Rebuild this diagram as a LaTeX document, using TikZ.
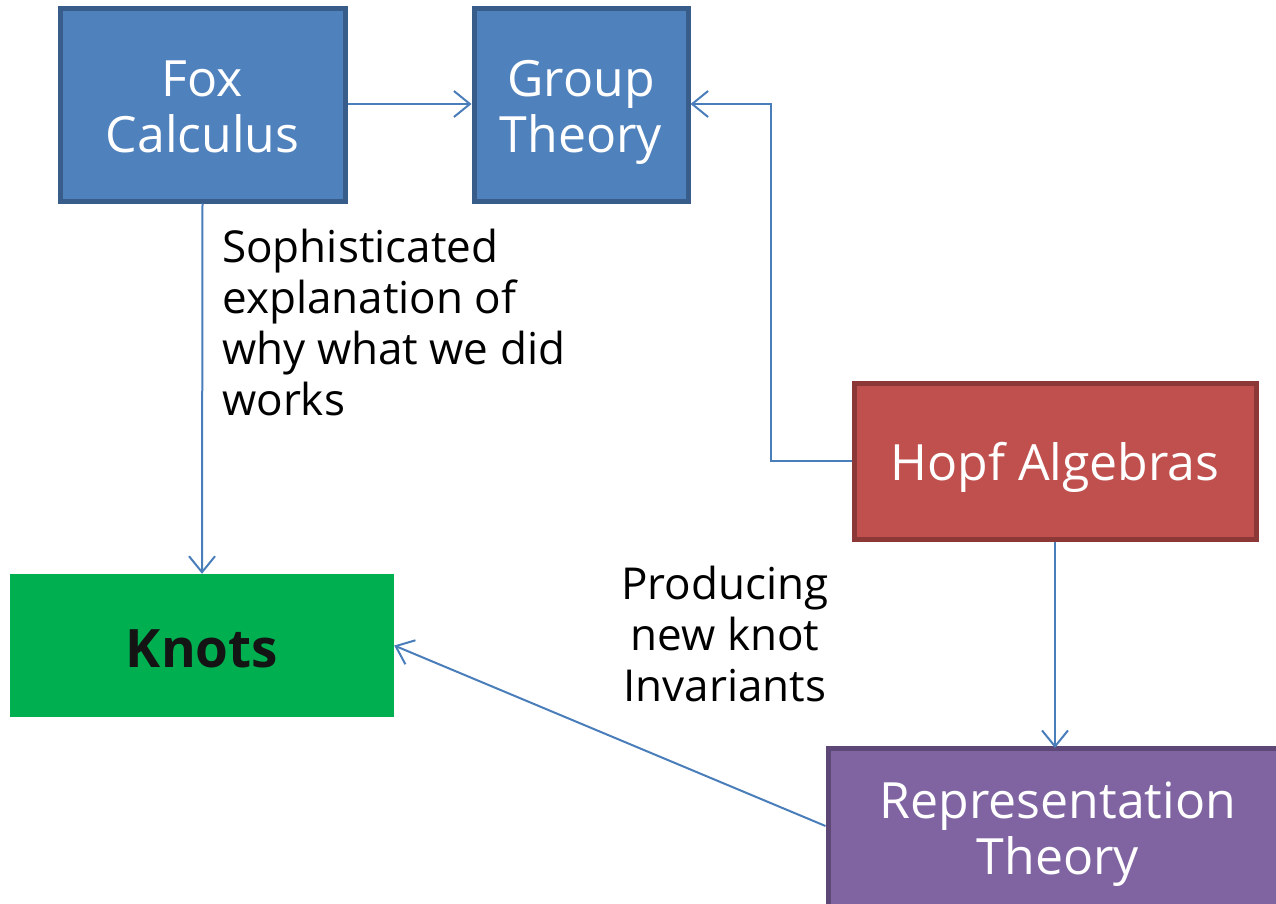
\documentclass[tikz,border=0pt]{standalone}
\usepackage{fontspec}
\setmainfont{Open Sans}
\usetikzlibrary{arrows.meta}
\definecolor{bluefill}{HTML}{4F81BD}
\definecolor{blueedge}{HTML}{385D8A}
\definecolor{redfill}{HTML}{C0504D}
\definecolor{rededge}{HTML}{8C3836}
\definecolor{greenfill}{HTML}{00B050}
\definecolor{purplefill}{HTML}{8064A2}
\definecolor{purpleedge}{HTML}{5C4776}
\definecolor{linkcol}{HTML}{4A7EBB}
% struts that fix where the lines sit inside a box
\newcommand{\topline}[1][52pt]{\rule{0pt}{#1}}
\newcommand{\lastline}{\rule[-12pt]{0pt}{12pt}}
\tikzset{
  x=1pt, y=-1pt,
  topic/.style={draw, line width=5pt, text=white, align=center,
    font=\fontsize{50}{56}\selectfont, inner sep=0pt},
  link/.style={draw=linkcol, line width=2pt,
    -{Straight Barb[length=16pt,width=26pt,line width=2pt]}},
  note/.style={font=\fontsize{44}{51}\selectfont, inner sep=0pt}
}
\begin{document}
\begin{tikzpicture}
\useasboundingbox (0,0) rectangle (1276,904);
% boxes
\node[topic, fill=bluefill, draw=blueedge, minimum width=285pt, minimum height=192pt]
  (fox) at (202.5,105) {\topline Fox\\Calculus\lastline};
\node[topic, fill=bluefill, draw=blueedge, minimum width=214pt, minimum height=192pt]
  (grp) at (581,105) {\topline Group\\Theory\lastline};
\node[topic, fill=redfill, draw=rededge, minimum width=402pt, minimum height=156pt]
  (hopf) at (1055,461) {\topline Hopf Algebras\lastline};
\node[draw=none, fill=greenfill, minimum width=384pt, minimum height=143pt, inner sep=0pt,
  text height=52pt, text depth=9pt,
  font=\fontsize{53}{60}\selectfont\bfseries, text=black!92]
  (knots) at (202,645.5) {Knots};
\node[topic, fill=purplefill, draw=purpleedge, minimum width=460pt, minimum height=164pt]
  (rep) at (1058,830) {\topline[44pt]Representation\\Theory\lastline};
% connectors
\coordinate (bend1) at (771,461);
\coordinate (bend2) at (771,104);
\draw[link] (fox.east |- 0,104) -- (grp.west |- 0,104);
\draw[link] (hopf.west) -- (bend1) -- (bend2) -- (grp.east |- bend2);
\draw[link] (fox.south) -- (knots.north);
\draw[link] (hopf.south) -- (hopf.south |- 0,748);
\draw[link] (rep.west |- 0,826) -- (knots.east);
% annotations
\node[note, anchor=north west, align=left] (why) at (222,229)
  {Sophisticated\\explanation of\\why what we did\\works};
\node[note, anchor=north, align=center] (prod) at (725,566)
  {Producing\\new knot\\Invariants};
\end{tikzpicture}
\end{document}
